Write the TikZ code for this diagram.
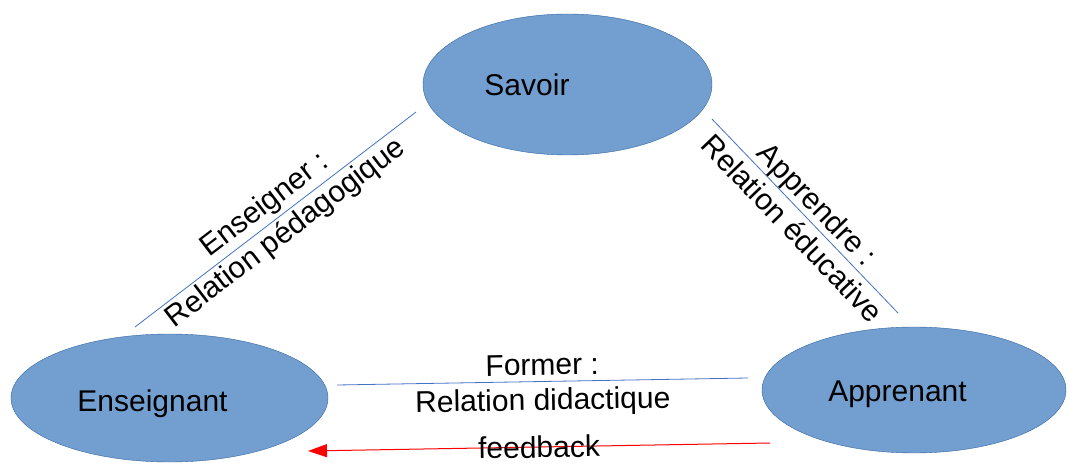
\documentclass[tikz,border=0pt]{standalone}
\usepackage{fontspec}
\setmainfont{Liberation Sans}
\usetikzlibrary{shapes.geometric,arrows.meta,positioning}
\definecolor{polefill}{HTML}{729FCF}
\definecolor{poledraw}{HTML}{3465A4}
\definecolor{linkblue}{HTML}{4472C4}
\tikzset
{
    pole/.style      = {ellipse, draw=poledraw, fill=polefill, inner sep=0pt},
    poletext/.style  = {font=\fontsize{30}{35}\selectfont, inner sep=0pt, anchor=base},
    link/.style      = {draw=linkblue, line width=0.8pt},
    backlink/.style  = {draw=red, line width=1pt, -{Triangle[length=19pt,width=13pt]}},
    linklabel/.style = {midway, sloped, align=center, font=\fontsize{30}{35}\selectfont, inner sep=0pt}
}
\begin{document}
\begin{tikzpicture}[x=1pt, y=-1pt]
   \useasboundingbox (0,0) rectangle (1069,465);

   % the three poles
   \node (savoir)     [pole, minimum width=289pt, minimum height=141pt] at (567.5, 84.5)  {};
   \node (enseignant) [pole, minimum width=317pt, minimum height=128pt] at (169.5, 398)   {};
   \node (apprenant)  [pole, minimum width=304pt, minimum height=126pt] at (914, 390)     {};

   \node (savoir-t)     [poletext] at ([shift=({-40.5, 11.5})]savoir)   {Savoir};
   \node (enseignant-t) [poletext] at ([shift=({-17, 13})]enseignant)   {Enseignant};
   \node (apprenant-t)  [poletext] at ([shift=({-16.5, 11})]apprenant)  {Apprenant};

   % free ends of the connectors
   \coordinate (es-a) at ([shift=({-34.5, -71})]enseignant);
   \coordinate (es-b) at ([shift=({-151.5, 27.5})]savoir);
   \coordinate (sa-a) at ([shift=({144.5, 34.5})]savoir);
   \coordinate (sa-b) at ([shift=({-16, -77})]apprenant);
   \coordinate (ea-a) at ([shift=({167.5, -13})]enseignant);
   \coordinate (ea-b) at ([shift=({-166, -12})]apprenant);
   \coordinate (ae-a) at ([shift=({-144, 53})]apprenant);
   \coordinate (ae-b) at ([shift=({138.5, 53})]enseignant);

   \path
      (es-a) edge[link]     node[linklabel] {Enseigner :\\Relation pédagogique} (es-b)
      (sa-a) edge[link]     node[linklabel] {Apprendre :\\Relation éducative}   (sa-b)
      (ea-a) edge[link]     node[linklabel, yshift=-4pt] {Former :\\Relation didactique} (ea-b)
      (ae-a) edge[backlink] node[linklabel] {feedback}                          (ae-b);
\end{tikzpicture}
\end{document}
